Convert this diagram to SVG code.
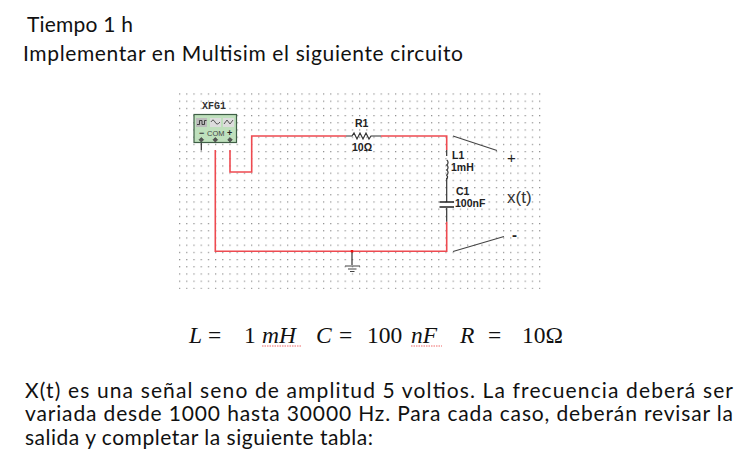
<svg xmlns="http://www.w3.org/2000/svg" width="754" height="461" viewBox="0 0 754 461">
<style>
.t{font-family:Lato,"Liberation Sans",sans-serif;font-size:21px;fill:#111}
.l{font-family:"Liberation Sans",sans-serif;font-size:10.500px;font-weight:bold;fill:#222}
.m{font-family:"Liberation Serif",serif;font-size:23.500px;fill:#111}
.i{font-style:italic}
.r{fill:none;stroke:#ee4a50;stroke-width:1.600}
.b{fill:none;stroke:#333;stroke-width:1.200}
.s{fill:none;stroke:#ef6a6a;stroke-width:1.200;stroke-dasharray:1.500 1}
</style>
<defs>
<pattern id="dots" x="179" y="93.400" width="7.200" height="7.200" patternUnits="userSpaceOnUse"><rect x="0" y="0" width="1.200" height="1.200" fill="#8a8a8a"/></pattern>
</defs>
<rect width="754" height="461" fill="#fff"/>
<rect x="178" y="93" width="364" height="196" fill="url(#dots)"/>
<g id="title">
<text class="t" x="27" y="32" textLength="106">Tiempo 1 h</text>
<text class="t" x="23" y="61" textLength="440">Implementar en Multisim el siguiente circuito</text>
</g>
<g id="connectors">
<path class="r" d="M230 150V172H251.700V136H346"/>
<path class="r" d="M381 136H446.700V150"/>
<path class="r" d="M446.700 221.700V251.300H215.300V150"/>
<path class="b" d="M201.300 142V150.500"/>
<path class="b" d="M446.700 150V156M446.700 178V202M446.700 208V221.700"/>
<path class="b" d="M352 252V265"/>
<path d="M453 136L497 150.500M453 251.500L504 236.500" fill="none" stroke="#444" stroke-width="1.100"/>
</g>
<g id="XFG1">
<rect x="194" y="114.500" width="42.500" height="28" fill="#bfe0bd" stroke="#3f5f46" stroke-width="1.200"/>
<rect x="196" y="118" width="11" height="9" fill="#bbb"/><rect x="210" y="118" width="11" height="9" fill="#ddd"/><rect x="223" y="118" width="11" height="9" fill="#ddd"/>
<path d="M197 124.500h2.500v-4h2.500v4h2.500v-4h2" fill="none" stroke="#222" stroke-width=".8"/>
<path d="M211 122q2-4 4 0t5 0" fill="none" stroke="#333" stroke-width=".8"/>
<path d="M224 124l3-4 3 4 3-4" fill="none" stroke="#333" stroke-width=".8"/>
<text x="199" y="136" font-family="Liberation Sans,sans-serif" font-size="9" font-weight="bold" fill="#333">−</text>
<text x="207" y="136" font-family="Liberation Sans,sans-serif" font-size="7.500" fill="#444">COM</text>
<text x="227" y="136" font-family="Liberation Sans,sans-serif" font-size="9" font-weight="bold" fill="#222">+</text>
<path d="M201.300 137.500l2.300 2.300-2.300 2.300-2.300-2.300zM215.300 137.500l2.300 2.300-2.300 2.300-2.300-2.300zM230 137.500l2.300 2.300-2.300 2.300-2.300-2.300z" fill="#555" stroke="#333" stroke-width=".6"/>
<text x="202" y="109" font-family="Liberation Mono,monospace" font-size="10" font-weight="bold" fill="#333">XFG1</text>
</g>
<g id="R1">
<path class="b" d="M346 136H352l2-3 3 6 3-6 3 6 3-6 3 6 2-3H381"/>
<text class="l" x="355" y="127">R1</text>
<text class="l" x="352" y="151">10Ω</text>
</g>
<g id="L1">
<path class="b" d="M446.700 160a3 3 0 0 1 0 5a3 3 0 0 1 0 5a3 3 0 0 1 0 5a3 3 0 0 1 0 4" />
<text class="l" x="452" y="159">L1</text>
<text class="l" x="451" y="171">1mH</text>
</g>
<g id="C1">
<path d="M439.500 202H454M439.500 207H454" stroke="#222" stroke-width="1.500" fill="none"/>
<text class="l" x="456" y="195">C1</text>
<text class="l" x="455" y="207">100nF</text>
</g>
<g id="ground">
<rect x="350.800" y="250" width="2.400" height="2.400" fill="#f01010"/>
<path d="M345 266H360M348 269H356.500M350 271.500H354.500" stroke="#444" stroke-width="1.200" fill="none"/>
</g>
<g id="port-labels">
<text x="507" y="163" font-family="Liberation Sans,sans-serif" font-size="15" fill="#222">+</text>
<text x="507" y="203" font-family="Liberation Sans,sans-serif" font-size="17" fill="#333">x(t)</text>
<text x="512" y="240" font-family="Liberation Sans,sans-serif" font-size="15" font-weight="bold" fill="#222">-</text>
</g>
<g id="equation">
<text class="m i" x="189" y="343">L</text>
<text class="m" x="208" y="343">=</text>
<text class="m" x="244" y="343">1</text>
<text class="m i" x="262" y="343">mH</text>
<text class="m i" x="316" y="343">C</text>
<text class="m" x="339" y="343">=</text>
<text class="m" x="367" y="343">100</text>
<text class="m i" x="411" y="343">nF</text>
<text class="m i" x="460" y="343">R</text>
<text class="m" x="488" y="343">=</text>
<text class="m" x="522" y="343">10Ω</text>
<path class="s" d="M262 346H302M411 346H442"/>
</g>
<g id="paragraph">
<text class="t" x="25" y="398" textLength="708">X(t) es una señal seno de amplitud 5 voltios. La frecuencia deberá ser</text>
<text class="t" x="25" y="421" textLength="708">variada desde 1000 hasta 30000 Hz. Para cada caso, deberán revisar la</text>
<text class="t" x="25" y="445" textLength="348">salida y completar la siguiente tabla:</text>
</g>
</svg>
